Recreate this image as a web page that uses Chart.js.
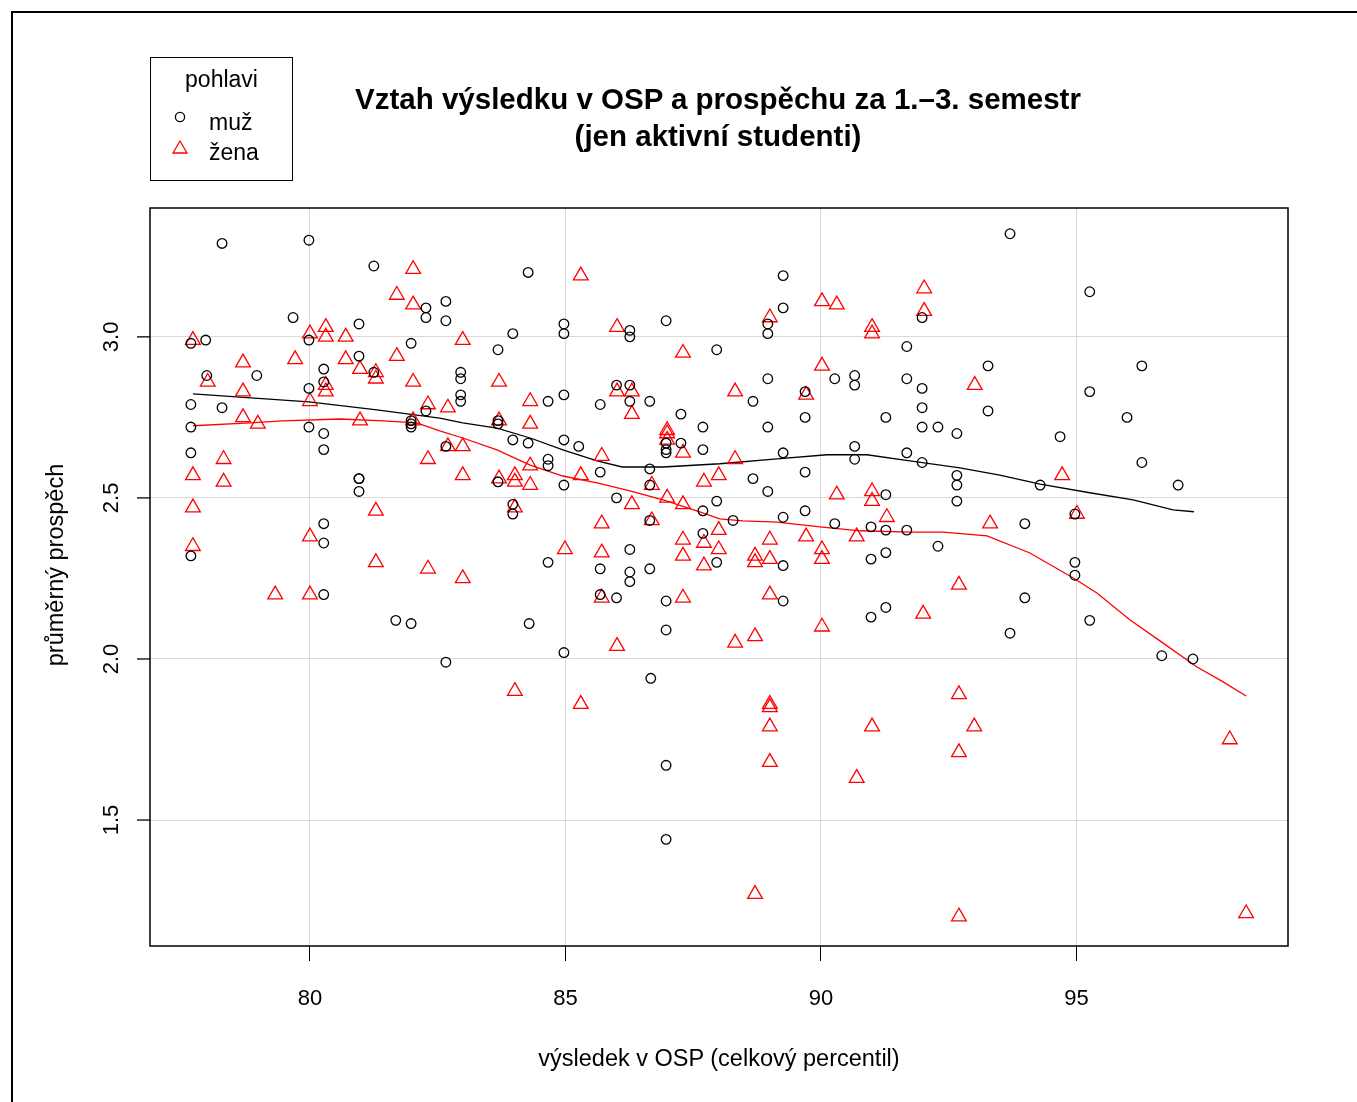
<!DOCTYPE html>
<html>
<head>
<meta charset="utf-8">
<script src="https://cdn.jsdelivr.net/npm/chart.js@4"></script>
<style>
    html, body { margin: 0; padding: 0; background: #fff; overflow: hidden; }
    body { width: 1357px; height: 1102px; position: relative; font-family: 'Liberation Sans', Arial, sans-serif; color: #000; }
    #frame { position: absolute; left: 11px; top: 11px; width: 1400px; height: 1200px; border: 2px solid #000; box-sizing: border-box; }
    #chart { position: absolute; left: 0; top: 0; }
    .title { position: absolute; left: 218px; width: 1000px; top: 80px; text-align: center; font-weight: bold; font-size: 29.5px; line-height: 37px; }
    .xlabel { position: absolute; left: 419px; width: 600px; top: 1044px; text-align: center; font-size: 23.5px; line-height: 28px; }
    .ylabel { position: absolute; left: -245px; width: 600px; top: 551px; text-align: center; font-size: 23.5px; line-height: 28px; transform: rotate(-90deg); }
    #legend { position: absolute; left: 150px; top: 57px; width: 143px; height: 124px; border: 1px solid #000; box-sizing: border-box; font-size: 23px; }
    #legend .head { position: absolute; left: 0; width: 141px; top: 8px; text-align: center; }
    #legend .item { position: absolute; left: 58px; }
    #legend svg { position: absolute; }
</style>
</head>
<body>
<div id="frame"></div>
<canvas id="chart" width="1357" height="1102"></canvas>
<div class="title">Vztah výsledku v OSP a prospěchu za 1.–3. semestr<br>(jen aktivní studenti)</div>
<div class="xlabel">výsledek v OSP (celkový percentil)</div>
<div class="ylabel">průměrný prospěch</div>
<div id="legend">
    <div class="head">pohlavi</div>
    <svg style="left:21px;top:51px" width="16" height="16"><circle cx="8" cy="8" r="4.6" fill="none" stroke="#000" stroke-width="1.3"/></svg>
    <div class="item" style="top:51px">muž</div>
    <svg style="left:20px;top:81px" width="18" height="18"><polygon points="9,2 16,14 2,14" fill="none" stroke="#f00" stroke-width="1.3"/></svg>
    <div class="item" style="top:81px">žena</div>
</div>
<script>
// osa x a y
const xTicks = [80, 85, 90, 95];
const yTicks = [1.5, 2.0, 2.5, 3.0];

// muži: OSP percentil, průměrný prospěch
const muzOsp = [
    78.28, 79.98, 77.96, 77.67, 77.98, 78.96, 78.28, 77.67, 77.67, 77.67, 77.67,
    79.67, 79.98, 79.98, 79.98, 80.27, 80.27, 80.27, 80.27, 80.27, 80.27, 80.27,
    80.96, 80.96, 80.96, 80.96, 80.96, 81.25, 81.25, 81.68, 81.98, 81.98, 81.98, 81.98, 81.98,
    82.27, 82.27, 82.27, 82.66, 82.66, 82.66, 82.66,
    84.27, 84.97, 84.97, 83.97, 83.68, 86.26, 86.26, 86.97, 87.96,
    82.95, 82.95, 82.95, 82.95, 84.66, 84.97, 85.68, 86.00, 86.26, 86.26, 86.65, 87.26, 87.69,
    83.68, 83.68, 83.97, 84.27, 84.97, 85.26, 84.66, 84.66, 86.97, 86.97, 86.97, 87.26, 87.69,
    85.68, 86.65, 86.65, 84.97, 83.68, 86.00, 87.96, 87.69, 86.65, 83.97, 83.97, 87.69, 87.96,
    86.26, 84.66, 85.68, 86.26, 86.26, 86.65, 84.29, 84.97, 85.68, 86.00, 86.97, 86.97, 86.67,
    86.97, 86.97,
    89.26, 89.26, 88.96, 88.96, 91.68, 91.98, 93.27, 88.96, 90.27, 90.66, 90.66, 91.68, 91.98,
    89.69, 88.67, 91.98, 93.27, 89.69, 91.27, 88.96, 91.98, 92.29, 92.66, 89.26, 90.66, 90.66,
    91.68, 91.98, 92.66, 92.66, 92.66, 88.67, 89.69, 88.96, 91.27, 89.69, 88.28, 89.26, 90.27,
    90.98, 91.27, 91.68, 92.29, 90.98, 91.27, 89.26, 89.26, 90.98, 91.27,
    93.70, 95.26, 96.28, 95.26, 95.99, 94.68, 96.28, 94.29, 96.99, 94.97, 93.99, 94.97, 94.97,
    93.99, 93.70, 95.26, 96.67, 97.28
];
const muzProspech = [
    3.29, 3.30, 2.99, 2.98, 2.88, 2.88, 2.78, 2.79, 2.72, 2.64, 2.32,
    3.06, 2.99, 2.84, 2.72, 2.90, 2.86, 2.70, 2.65, 2.42, 2.36, 2.20,
    3.04, 2.94, 2.56, 2.56, 2.52, 3.22, 2.89, 2.12, 2.98, 2.74, 2.73, 2.72, 2.11,
    3.09, 3.06, 2.77, 3.11, 3.05, 1.99, 2.66,
    3.20, 3.04, 3.01, 3.01, 2.96, 3.02, 3.00, 3.05, 2.96,
    2.89, 2.87, 2.82, 2.80, 2.80, 2.82, 2.79, 2.85, 2.85, 2.80, 2.80, 2.76, 2.72,
    2.74, 2.73, 2.68, 2.67, 2.68, 2.66, 2.62, 2.60, 2.67, 2.65, 2.64, 2.67, 2.65,
    2.58, 2.59, 2.54, 2.54, 2.55, 2.50, 2.49, 2.46, 2.43, 2.48, 2.45, 2.39, 2.30,
    2.34, 2.30, 2.28, 2.27, 2.24, 2.28, 2.11, 2.02, 2.20, 2.19, 2.18, 2.09, 1.94,
    1.67, 1.44,
    3.19, 3.09, 3.04, 3.01, 2.97, 3.06, 2.91, 2.87, 2.87, 2.88, 2.85, 2.87, 2.84,
    2.83, 2.80, 2.78, 2.77, 2.75, 2.75, 2.72, 2.72, 2.72, 2.70, 2.64, 2.66, 2.62,
    2.64, 2.61, 2.57, 2.54, 2.49, 2.56, 2.58, 2.52, 2.51, 2.46, 2.43, 2.44, 2.42,
    2.41, 2.40, 2.40, 2.35, 2.31, 2.33, 2.29, 2.18, 2.13, 2.16,
    3.32, 3.14, 2.91, 2.83, 2.75, 2.69, 2.61, 2.54, 2.54, 2.45, 2.42, 2.30, 2.26,
    2.19, 2.08, 2.12, 2.01, 2.00
];

// ženy: OSP percentil, průměrný prospěch
const zenaOsp = [
    82.02, 81.70, 82.02, 77.71, 80.31, 80.00, 80.31, 80.70, 79.71, 80.70, 78.69, 81.70,
    80.98, 81.29, 81.29, 82.02, 78.00, 80.31, 80.31, 80.00, 78.69, 82.31, 78.69, 78.98,
    80.98, 82.02, 82.31, 78.31, 77.71, 78.31, 77.71, 81.29, 80.00, 77.71, 81.29, 82.31,
    79.32, 80.00,
    85.30, 86.01, 82.99, 87.30, 83.70, 84.31, 86.01, 86.30, 86.30, 82.70, 83.70, 84.31,
    86.99, 86.99, 86.99, 87.30, 82.70, 82.99, 85.71, 84.31, 82.99, 85.30, 83.70, 84.01,
    84.01, 84.31, 86.69, 86.30, 86.99, 87.30, 87.71, 88.00, 86.69, 84.01, 85.71, 87.30,
    87.30, 87.71, 87.71, 88.00, 88.00, 85.71, 84.99, 82.99, 85.71, 87.30, 86.01, 84.01,
    85.30,
    92.02, 92.02, 90.02, 90.31, 89.00, 91.00, 91.00, 90.02, 88.32, 89.71, 93.01, 88.32,
    90.31, 91.00, 91.00, 91.29, 93.31, 89.00, 89.71, 90.70, 90.02, 90.02, 88.71, 88.71,
    89.00, 89.00, 88.71, 88.32, 90.02, 92.70, 92.00, 89.00, 89.00, 89.00, 89.00, 92.70,
    92.70, 91.00, 93.00, 90.70, 88.71, 92.70,
    94.72, 95.01, 98.00, 98.32
];
const zenaProspech = [
    3.21, 3.13, 3.10, 2.99, 3.03, 3.01, 3.00, 3.00, 2.93, 2.93, 2.92, 2.94,
    2.90, 2.89, 2.87, 2.86, 2.86, 2.85, 2.83, 2.80, 2.83, 2.79, 2.75, 2.73,
    2.74, 2.74, 2.62, 2.62, 2.57, 2.55, 2.47, 2.46, 2.38, 2.35, 2.30, 2.28,
    2.20, 2.20,
    3.19, 3.03, 2.99, 2.95, 2.86, 2.80, 2.83, 2.83, 2.76, 2.78, 2.74, 2.73,
    2.71, 2.70, 2.68, 2.64, 2.66, 2.66, 2.63, 2.60, 2.57, 2.57, 2.56, 2.57,
    2.55, 2.54, 2.54, 2.48, 2.50, 2.48, 2.55, 2.57, 2.43, 2.47, 2.42, 2.37,
    2.32, 2.36, 2.29, 2.40, 2.34, 2.33, 2.34, 2.25, 2.19, 2.19, 2.04, 1.90,
    1.86,
    3.15, 3.08, 3.11, 3.10, 3.06, 3.03, 3.01, 2.91, 2.83, 2.82, 2.85, 2.62,
    2.51, 2.52, 2.49, 2.44, 2.42, 2.37, 2.38, 2.38, 2.34, 2.31, 2.32, 2.30,
    2.31, 2.20, 2.07, 2.05, 2.10, 2.23, 2.14, 1.86, 1.85, 1.79, 1.68, 1.89,
    1.71, 1.79, 1.79, 1.63, 1.27, 1.20,
    2.57, 2.45, 1.75, 1.21
];

// vyhlazené křivky (lowess)
const lowessMuzX = [77.71, 79.98, 81.31, 82.54, 82.99, 83.66, 84.31, 84.95, 85.62, 86.11, 86.91,
    88.02, 89.14, 90.12, 90.90, 91.74, 92.72, 93.50, 94.29, 95.26, 96.11, 96.89, 97.30];
const lowessMuzY = [2.823, 2.798, 2.773, 2.748, 2.733, 2.717, 2.686, 2.649, 2.615, 2.596, 2.596,
    2.606, 2.621, 2.634, 2.634, 2.615, 2.593, 2.571, 2.543, 2.516, 2.494, 2.463, 2.457];
const lowessZenaX = [77.71, 78.83, 79.47, 80.59, 81.43, 82.09, 82.54, 82.99, 83.66, 84.31, 84.95,
    85.62, 86.26, 86.91, 87.57, 88.02, 88.47, 89.14, 89.98, 90.76, 91.74, 92.39, 93.25, 94.09,
    94.93, 95.40, 96.05, 96.69, 97.36, 97.87, 98.32];
const lowessZenaY = [2.724, 2.733, 2.739, 2.745, 2.739, 2.733, 2.708, 2.686, 2.649, 2.602, 2.568,
    2.547, 2.522, 2.494, 2.460, 2.435, 2.429, 2.425, 2.410, 2.398, 2.394, 2.394, 2.382, 2.329,
    2.252, 2.205, 2.121, 2.050, 1.975, 1.929, 1.885];

function toPoints(xs, ys) {
    return xs.map((x, i) => ({ x: x, y: ys[i] }));
}

const boxPlugin = {
    id: 'boxPlugin',
    afterDraw(chart) {
        const ctx = chart.ctx;
        const a = chart.chartArea;
        const yScale = chart.scales.y;
        ctx.save();
        ctx.strokeStyle = '#000';
        ctx.lineWidth = 1.5;
        ctx.strokeRect(a.left, a.top, a.right - a.left, a.bottom - a.top);
        // y ticks + rotated labels
        ctx.lineWidth = 1.3;
        ctx.fillStyle = '#000';
        ctx.font = '22px "Liberation Sans", Arial, sans-serif';
        ctx.textAlign = 'center';
        ctx.textBaseline = 'middle';
        yTicks.forEach(v => {
            const py = yScale.getPixelForValue(v);
            ctx.beginPath();
            ctx.moveTo(a.left, py);
            ctx.lineTo(a.left - 13, py);
            ctx.stroke();
            ctx.save();
            ctx.translate(112, py);
            ctx.rotate(-Math.PI / 2);
            ctx.fillText(v.toFixed(1), 0, 0);
            ctx.restore();
        });
        ctx.restore();
    }
};

const ctx = document.getElementById('chart').getContext('2d');
new Chart(ctx, {
    type: 'scatter',
    data: {
        datasets: [
            {
                label: 'muž',
                data: toPoints(muzOsp, muzProspech),
                pointStyle: 'circle',
                pointRadius: 4.8,
                borderColor: '#000',
                backgroundColor: 'rgba(0,0,0,0)',
                borderWidth: 1.3
            },
            {
                label: 'žena',
                data: toPoints(zenaOsp, zenaProspech),
                pointStyle: 'triangle',
                pointRadius: 8.5,
                borderColor: '#ff0000',
                backgroundColor: 'rgba(0,0,0,0)',
                borderWidth: 1.3
            },
            {
                label: 'lowess muž',
                data: toPoints(lowessMuzX, lowessMuzY),
                showLine: true,
                pointRadius: 0,
                borderColor: '#000',
                borderWidth: 1.3,
                tension: 0
            },
            {
                label: 'lowess žena',
                data: toPoints(lowessZenaX, lowessZenaY),
                showLine: true,
                pointRadius: 0,
                borderColor: '#ff0000',
                borderWidth: 1.3,
                tension: 0
            }
        ]
    },
    options: {
        responsive: false,
        animation: false,
        devicePixelRatio: 1,
        layout: { padding: { left: 0, top: 208, right: 69, bottom: 0 } },
        plugins: { legend: { display: false }, tooltip: { enabled: false } },
        scales: {
            x: {
                type: 'linear',
                min: 76.87,
                max: 99.14,
                afterBuildTicks: scale => { scale.ticks = xTicks.map(v => ({ value: v })); },
                afterFit: scale => { scale.height = 156; },
                grid: { color: '#d9d9d9', lineWidth: 1, tickColor: '#000', tickLength: 15, drawTicks: true },
                border: { display: false },
                ticks: {
                    color: '#000',
                    padding: 25,
                    font: { family: '"Liberation Sans", Arial, sans-serif', size: 22 },
                    callback: v => String(v)
                }
            },
            y: {
                type: 'linear',
                min: 1.109,
                max: 3.40,
                afterBuildTicks: scale => { scale.ticks = yTicks.map(v => ({ value: v })); },
                afterFit: scale => { scale.width = 150; },
                grid: { color: '#d9d9d9', lineWidth: 1, drawTicks: false },
                border: { display: false },
                ticks: { display: false }
            }
        }
    },
    plugins: [boxPlugin]
});
</script>
</body>
</html>
